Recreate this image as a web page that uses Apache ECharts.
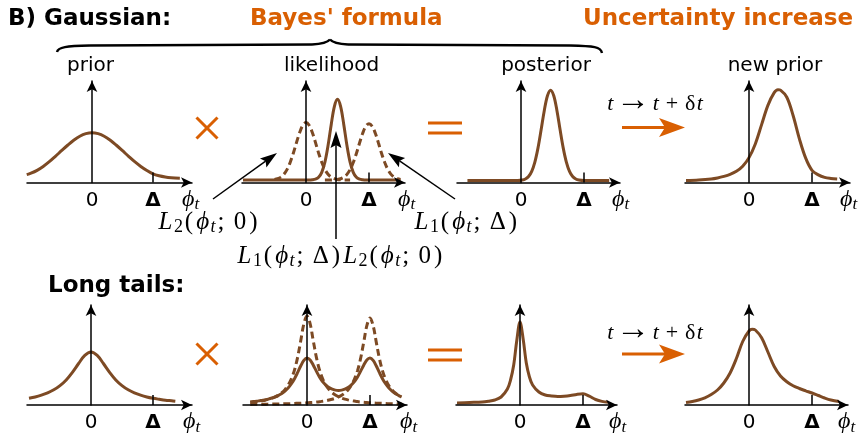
<!DOCTYPE html>
<html><head><meta charset="utf-8">
<script src="https://cdn.jsdelivr.net/npm/echarts@6/dist/echarts.min.js"></script>
<style>html,body{margin:0;padding:0;background:#fff}#c{width:862px;height:436px}</style>
</head><body><div id="c"></div>
<script>
// ---------- data (heights relative to the vertical axis length) ----------
const tickValues = [0, 1];
const tickLabels = ['0', 'Δ'];

// Gaussian row
const gaussPriorX = [-1.07,-1.0,-0.9,-0.8,-0.7,-0.6,-0.5,-0.4,-0.3,-0.2,-0.1,0,0.1,0.2,0.3,0.4,0.5,0.6,0.7,0.8,0.9,1.0,1.1,1.2,1.3,1.44];
const gaussPriorY = [0.078,0.092,0.12,0.158,0.205,0.258,0.313,0.367,0.417,0.456,0.481,0.49,0.481,0.456,0.417,0.367,0.313,0.258,0.205,0.158,0.118,0.085,0.066,0.054,0.047,0.042];

const gaussLikX = [-1.0,-0.95,-0.9,-0.85,-0.8,-0.75,-0.7,-0.65,-0.6,-0.55,-0.5,-0.45,-0.4,-0.35,-0.3,-0.25,-0.2,-0.15,-0.1,-0.05,0,0.05,0.1,0.15,0.2,0.25,0.3,0.35,0.4,0.45,0.5,0.55,0.6,0.65,0.7,0.75,0.8,0.85,0.9,0.95,1.0,1.05,1.1,1.15,1.2,1.25,1.3,1.35,1.4,1.45,1.5];
const gaussLik2Y = [null,null,null,null,null,null,null,null,null,null,
  0.03,0.038,0.053,0.081,0.129,0.2,0.291,0.395,0.493,0.564,0.59,0.564,0.493,0.395,0.291,0.2,0.129,0.081,0.053,0.038,0.03,0.027,0.025,0.025,0.025,
  null,null,null,null,null,null,null,null,null,null,null,null,null,null,null,null];
const gaussLik1Y = [null,null,null,null,null,null,null,null,null,null,null,null,null,null,null,null,null,null,null,null,null,null,null,null,null,null,
  0.025,0.025,0.025,0.027,0.03,0.037,0.052,0.08,0.127,0.197,0.286,0.389,0.485,0.554,0.58,0.554,0.485,0.389,0.286,0.197,0.127,0.08,0.052,0.037,0.03];
const gaussLikProdY = [0.025,0.025,0.025,0.025,0.025,0.025,0.025,0.025,0.025,0.025,0.025,0.025,0.025,0.025,0.025,0.025,0.025,0.025,0.025,0.025,0.025,0.025,
  0.027,0.033,0.051,0.10,0.20,0.364,0.57,0.748,0.82,0.748,0.57,0.364,0.2,0.1,0.051,0.033,0.027,
  0.025,0.025,0.025,0.025,0.025,0.025,0.025,0.025,0.025,0.025,0.025,0.025];

const gaussPostX = [-0.85,-0.6,-0.4,-0.2,-0.05,0.02,0.07,0.12,0.17,0.22,0.27,0.32,0.37,0.42,0.47,0.52,0.57,0.62,0.67,0.72,0.77,0.82,0.87,0.92,1.0,1.2,1.4];
const gaussPostY = [0.02,0.02,0.02,0.02,0.02,0.025,0.035,0.059,0.11,0.201,0.341,0.521,0.71,0.855,0.91,0.855,0.71,0.521,0.341,0.201,0.11,0.059,0.035,0.025,0.02,0.02,0.02];

const gaussNewX = [-1.0,-0.8,-0.6,-0.5,-0.4,-0.3,-0.2,-0.1,0.0,0.1,0.2,0.3,0.4,0.46,0.5,0.6,0.7,0.8,0.9,1.0,1.1,1.2,1.3,1.4];
const gaussNewY = [0.02,0.025,0.035,0.045,0.06,0.08,0.11,0.16,0.245,0.38,0.57,0.76,0.885,0.915,0.91,0.84,0.66,0.43,0.24,0.12,0.075,0.05,0.04,0.035];

// Long-tail row
const tailPriorX = [-1.0,-0.9,-0.8,-0.7,-0.6,-0.5,-0.4,-0.3,-0.2,-0.1,0,0.1,0.2,0.3,0.4,0.5,0.6,0.7,0.8,0.9,1.0,1.1,1.2,1.3,1.36];
const tailPriorY = [0.067,0.08,0.098,0.121,0.152,0.194,0.251,0.327,0.415,0.496,0.53,0.496,0.415,0.327,0.251,0.194,0.152,0.121,0.098,0.08,0.067,0.057,0.048,0.042,0.038];

const tailLikX = [-0.9,-0.85,-0.8,-0.75,-0.7,-0.65,-0.6,-0.55,-0.5,-0.45,-0.4,-0.35,-0.3,-0.25,-0.2,-0.15,-0.1,-0.05,0,0.05,0.1,0.15,0.2,0.25,0.3,0.35,0.4,0.45,0.5,0.55,0.6,0.65,0.7,0.75,0.8,0.85,0.9,0.95,1.0,1.05,1.1,1.15,1.2,1.25,1.3,1.35,1.4,1.45,1.5];
const tailLik2Y = [0.027,0.03,0.034,0.039,0.044,0.051,0.059,0.069,0.083,0.1,0.123,0.154,0.197,0.259,0.347,0.474,0.64,0.811,0.89,0.811,0.64,0.474,0.347,0.259,0.197,0.154,0.123,0.1,0.083,0.069,0.059,0.051,0.044,0.039,0.034,0.03,0.027,0.025,0.022,0.02,0.018,0.017,0.016,0.014,0.013,0.012,0.011,0.011,0.01];
const tailLik1Y = [0.006,0.0065,0.007,0.0075,0.008,0.0085,0.009,0.0095,0.01,0.011,0.011,0.012,0.013,0.014,0.016,0.017,0.018,0.02,0.022,0.024,0.026,0.029,0.033,0.038,0.043,0.05,0.058,0.068,0.081,0.098,0.12,0.151,0.193,0.253,0.339,0.463,0.626,0.793,0.87,0.793,0.626,0.463,0.339,0.253,0.193,0.151,0.12,0.098,0.081];
const tailLikProdY = [0.031,0.035,0.038,0.043,0.048,0.054,0.062,0.071,0.082,0.097,0.115,0.139,0.17,0.21,0.261,0.323,0.39,0.447,0.471,0.451,0.398,0.336,0.278,0.232,0.198,0.174,0.158,0.149,0.146,0.149,0.158,0.174,0.198,0.232,0.278,0.336,0.398,0.451,0.471,0.447,0.39,0.323,0.261,0.21,0.17,0.139,0.115,0.097,0.082];

const tailPostX = [-1.0,-0.8,-0.6,-0.5,-0.4,-0.3,-0.2,-0.15,-0.1,-0.05,0,0.05,0.1,0.15,0.2,0.3,0.4,0.5,0.6,0.7,0.8,0.9,1.0,1.1,1.2,1.3,1.4];
const tailPostY = [0.02,0.025,0.03,0.038,0.05,0.08,0.16,0.25,0.40,0.65,0.83,0.66,0.42,0.28,0.20,0.13,0.10,0.09,0.085,0.088,0.095,0.106,0.112,0.088,0.055,0.036,0.028];

const tailNewX = [-1.0,-0.9,-0.8,-0.7,-0.6,-0.5,-0.4,-0.3,-0.2,-0.1,0,0.05,0.1,0.2,0.3,0.4,0.5,0.6,0.7,0.8,0.9,1.0,1.1,1.2,1.3,1.43];
const tailNewY = [0.025,0.035,0.05,0.072,0.105,0.15,0.22,0.32,0.465,0.635,0.74,0.758,0.75,0.672,0.53,0.385,0.29,0.233,0.193,0.165,0.142,0.12,0.095,0.07,0.05,0.035];

// ---------- layout ----------
const BROWN = '#7d4a24', ORANGE = '#d95f02';
const panels = [
  {ox:92,  unit:61, x0:27,  x1:192, top:81,  base:182.5, gap:-10},
  {ox:306, unit:63, x0:242, x1:405, top:81,  base:182.5, gap:-7},
  {ox:521, unit:63, x0:457, x1:620, top:81,  base:182.5, gap:-8},
  {ox:749, unit:63, x0:685, x1:850, top:81,  base:182.5, gap:-10},
  {ox:91,  unit:62, x0:27,  x1:192, top:305, base:407.5, gap:-9},
  {ox:307, unit:63, x0:243, x1:407, top:305, base:407.5, gap:-7},
  {ox:520, unit:63, x0:456, x1:617, top:305, base:407.5, gap:-8},
  {ox:749, unit:63, x0:685, x1:848, top:305, base:407.5, gap:-10}
];
const zip = (xs, ys) => xs.map((x, i) => [x, ys[i]]).filter(p => p[1] !== null);
const curves = [
  [0, gaussPriorX, gaussPriorY, false],
  [1, gaussLikX, gaussLikProdY, false],
  [1, gaussLikX, gaussLik2Y, true],
  [1, gaussLikX, gaussLik1Y, true],
  [2, gaussPostX, gaussPostY, false],
  [3, gaussNewX, gaussNewY, false],
  [4, tailPriorX, tailPriorY, false],
  [5, tailLikX, tailLikProdY, false],
  [5, tailLikX, tailLik2Y, true],
  [5, tailLikX, tailLik1Y, true],
  [6, tailPostX, tailPostY, false],
  [7, tailNewX, tailNewY, false]
];
const SERIF = 'Liberation Serif';
const mathRich = (fs, pad, subOff) => {
  const p = [0, pad, 0, pad];
  const sub = Math.round(fs * 0.7);
  return {
    i: {fontFamily: SERIF, fontStyle: 'italic', fontSize: fs, lineHeight: fs + 4, padding: p, color: '#000'},
    r: {fontFamily: SERIF, fontSize: fs, lineHeight: fs + 4, padding: p, color: '#000'},
    a: {fontFamily: SERIF, fontSize: Math.round(fs * 1.55), lineHeight: fs + 4, padding: [0, 2, 6, 2], color: '#000'},
    s: {fontFamily: SERIF, fontSize: sub, lineHeight: subOff, verticalAlign: 'bottom', padding: [0, pad * 0.3, 0, 0], color: '#000'},
    si: {fontFamily: SERIF, fontStyle: 'italic', fontSize: sub, lineHeight: subOff, verticalAlign: 'bottom', padding: [0, pad * 0.3, 0, 0], color: '#000'}
  };
};

const grid = panels.map(p => ({left: p.x0, top: p.top, width: p.x1 - p.x0, height: p.base - p.top, containLabel: false}));
const xAxis = panels.map((p, i) => ({
  type: 'value', gridIndex: i, z: 3,
  min: (p.x0 - p.ox) / p.unit, max: (p.x1 - p.ox) / p.unit,
  splitLine: {show: false},
  axisLine: {show: true, onZero: false, symbol: ['none', 'arrow'], symbolSize: [8, 11], lineStyle: {color: '#000', width: 1.5}},
  axisTick: {show: true, customValues: [tickValues[1]], inside: true, length: 10, lineStyle: {color: '#000', width: 1.5}},
  axisLabel: {show: true, customValues: tickValues, margin: 8,
    formatter: v => (tickValues.indexOf(v) === 0 ? '{n|' + tickLabels[0] + '}' : '{d|' + tickLabels[1] + '}'),
    rich: {n: {fontFamily: 'DejaVu Sans', fontSize: 20, color: '#000'}, d: {fontFamily: 'DejaVu Sans', fontWeight: 'bold', fontSize: 20, color: '#000'}}},
  name: '{i|ϕ}{si|t}', nameLocation: 'end', nameGap: p.gap,
  nameTextStyle: {align: 'left', verticalAlign: 'top', padding: [3, 0, 0, 0], rich: mathRich(24, 0, 12)}
}));
const yAxis = panels.map((p, i) => ({
  type: 'value', gridIndex: i, z: 3, min: 0, max: 1,
  splitLine: {show: false}, axisTick: {show: false}, axisLabel: {show: false},
  axisLine: {show: true, onZero: true, symbol: ['none', 'arrow'], symbolSize: [8, 11], lineStyle: {color: '#000', width: 1.5}}
}));
const series = curves.map(c => ({
  type: 'line', xAxisIndex: c[0], yAxisIndex: c[0], data: zip(c[1], c[2]),
  showSymbol: false, smooth: 0.35, silent: true, z: 2,
  lineStyle: {color: BROWN, width: 3, type: c[3] ? [7, 4] : 'solid', cap: 'butt'}
}));

// ---------- annotations ----------
const G = [];
const txt = (text, x, y, o) => G.push(Object.assign({type: 'text', z: 10, style: Object.assign({text, x, y, fill: '#000', fontFamily: 'DejaVu Sans', fontSize: 20, align: 'center', verticalAlign: 'middle'}, o || {})}));
txt('B) Gaussian:', 8, 19, {align: 'left', fontWeight: 'bold', fontSize: 23});
txt("Bayes' formula", 250, 19, {align: 'left', fontWeight: 'bold', fontSize: 23, fill: ORANGE});
txt('Uncertainty increase', 583, 19, {align: 'left', fontWeight: 'bold', fontSize: 23, fill: ORANGE});
txt('Long tails:', 48, 286, {align: 'left', fontWeight: 'bold', fontSize: 23});
txt('prior', 90.5, 66);
txt('likelihood', 331.5, 66);
txt('posterior', 546, 66);
txt('new prior', 775, 66);

// brace
const bz = (a, b, c, d) => G.push({type: 'bezierCurve', z: 10, shape: {x1: a[0], y1: a[1], cpx1: b[0], cpy1: b[1], cpx2: c[0], cpy2: c[1], x2: d[0], y2: d[1]}, style: {fill: null, stroke: '#000', lineWidth: 2.4}});
const ln = (a, b, col, w) => G.push({type: 'line', z: 10, shape: {x1: a[0], y1: a[1], x2: b[0], y2: b[1]}, style: {stroke: col, lineWidth: w}});
bz([57, 52], [58, 47], [66, 46], [90, 45.5]);
ln([90, 45.5], [312, 44.5], '#000', 2.4);
bz([312, 44.5], [322, 44], [327, 43], [330, 39.5]);
bz([330, 39.5], [333, 43], [338, 44], [348, 44.5]);
ln([348, 44.5], [570, 45.5], '#000', 2.4);
bz([570, 45.5], [594, 46], [601, 47], [602, 53]);

// times and equals
[[207, 128], [207, 354]].forEach(([cx, cy]) => {
  ln([cx - 10.5, cy - 10.5], [cx + 10.5, cy + 10.5], ORANGE, 3);
  ln([cx + 10.5, cy - 10.5], [cx - 10.5, cy + 10.5], ORANGE, 3);
});
[[123, 133], [350, 360]].forEach(([ya, yb]) => {
  ln([428, ya], [462, ya], ORANGE, 3);
  ln([428, yb], [462, yb], ORANGE, 3);
});

// orange time-step arrows
const TR = mathRich(22, 0.7, 12);
[[127.5, 104], [354, 333]].forEach(([ay, ty]) => {
  ln([622, ay], [666, ay], ORANGE, 3);
  G.push({type: 'polygon', z: 10, shape: {points: [[685, ay], [659, ay - 9.5], [665, ay], [659, ay + 9.5]]}, style: {fill: ORANGE}});
  G.push({type: 'text', z: 10, style: {text: '{i|t}{a|→}{i|t}{r| + }{r|δ}{i|t}', x: 655, y: ty, align: 'center', verticalAlign: 'middle', rich: TR}});
});

// black pointer arrows
function blackArrow(x1, y1, x2, y2) {
  const L = 17, W = 5.5, N = 3;
  const dx = x2 - x1, dy = y2 - y1, d = Math.hypot(dx, dy), ux = dx / d, uy = dy / d;
  const bx = x2 - ux * L, by = y2 - uy * L, nx = -uy, ny = ux;
  ln([x1, y1], [bx + ux * N, by + uy * N], '#000', 1.5);
  G.push({type: 'polygon', z: 10, shape: {points: [[x2, y2], [bx + nx * W, by + ny * W], [bx + ux * N, by + uy * N], [bx - nx * W, by - ny * W]]}, style: {fill: '#000'}});
}
blackArrow(213, 199, 277, 153);
blackArrow(336, 239, 336, 131);
blackArrow(455, 199, 388, 153);

// likelihood labels
const LR = mathRich(25, 1.5, 13);
const mt = (text, x, y) => G.push({type: 'text', z: 10, style: {text, x, y, align: 'left', verticalAlign: 'middle', rich: LR}});
const L2 = '{i|L}{s|2}{r|(}{i|ϕ}{si|t}{r|; }{r|0}{r|)}';
const L1 = '{i|L}{s|1}{r|(}{i|ϕ}{si|t}{r|; }{r|Δ}{r|)}';
mt(L2, 157, 222);
mt(L1, 413, 222);
mt(L1 + L2, 236, 256);

const chart = echarts.init(document.getElementById('c'), null, {renderer: 'canvas'});
chart.setOption({animation: false, backgroundColor: '#fff', grid, xAxis, yAxis, series, graphic: G});
</script></body></html>
